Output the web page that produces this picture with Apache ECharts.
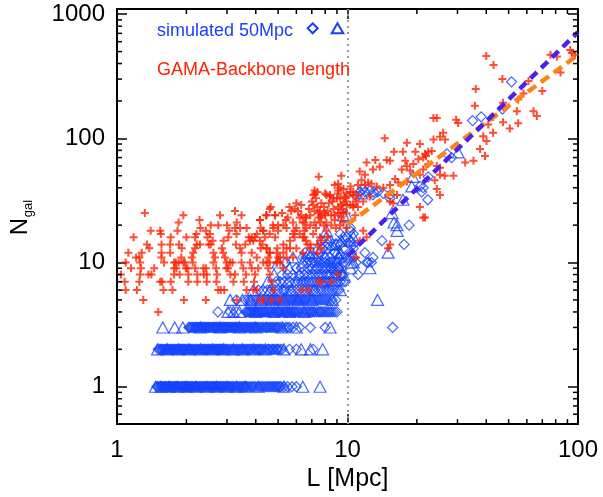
<!DOCTYPE html>
<html><head><meta charset="utf-8">
<script src="https://cdn.jsdelivr.net/npm/echarts@6/dist/echarts.min.js"></script>
<style>html,body{margin:0;padding:0;background:#fff}#c{width:603px;height:497px}</style>
</head><body><div id="c"></div>
<script>
const FONT = "'Liberation Sans', Arial, Helvetica, sans-serif";
const xTickLabels = ['1', '10', '100'];
const yTickLabels = ['1', '10', '100', '1000'];
const xMinorTicks = [2,3,4,5,6,7,8,9,20,30,40,50,60,70,80,90];
const yMinorTicks = [0.6,0.7,0.8,0.9,2,3,4,5,6,7,8,9,20,30,40,50,60,70,80,90,200,300,400,500,600,700,800,900];

// simulated 50Mpc: diamonds, rows of equal N_gal  [N, [L values]]
const simDiamondRows = [
  [1, [1.49,1.50,1.52,1.54,1.56,1.58,1.60,1.61,1.62,1.64,1.66,1.68,1.69,1.71,1.72,1.74,1.75,1.77,1.79,1.80,1.82,1.84,1.86,1.88,1.90,1.92,1.94,1.96,1.97,1.99,2.01,2.03,2.05,2.07,2.09,2.11,2.13,2.15,2.18,2.20,2.22,2.25,2.28,2.30,2.33,2.35,2.38,2.40,2.43,2.46,2.50,2.53,2.55,2.58,2.60,2.63,2.65,2.68,2.72,2.75,2.78,2.80,2.83,2.86,2.89,2.92,2.96,3.00,3.05,3.08,3.12,3.16,3.20,3.25,3.30,3.35,3.40,3.45,3.50,3.55,3.60,3.65,3.70,3.78,3.85,3.92,4.00,4.10,4.18,4.25,4.33,4.40,4.48,4.55,4.62,4.70,4.78,4.85,4.92,5.00,5.08,5.15,5.30,5.50,5.75,6.00]],
  [2, [1.51,1.53,1.55,1.56,1.58,1.60,1.62,1.64,1.66,1.68,1.70,1.72,1.74,1.76,1.78,1.80,1.82,1.84,1.86,1.88,1.90,1.92,1.94,1.96,1.98,2.00,2.03,2.06,2.08,2.10,2.12,2.15,2.18,2.20,2.22,2.25,2.28,2.32,2.35,2.38,2.40,2.42,2.45,2.48,2.50,2.52,2.55,2.58,2.62,2.65,2.68,2.70,2.72,2.75,2.78,2.80,2.83,2.85,2.88,2.92,2.95,2.98,3.00,3.05,3.10,3.15,3.20,3.25,3.30,3.35,3.40,3.45,3.50,3.55,3.60,3.65,3.70,3.75,3.80,3.85,3.95,4.00,4.05,4.10,4.15,4.20,4.25,4.30,4.40,4.50,4.55,4.60,4.70,4.75,4.80,4.90,4.95,5.00,5.10,5.20,5.60,6.00,7.10]],
  [3, [2.05,2.07,2.10,2.12,2.15,2.18,2.20,2.22,2.25,2.27,2.30,2.33,2.35,2.38,2.40,2.43,2.45,2.48,2.50,2.53,2.56,2.60,2.62,2.65,2.68,2.70,2.73,2.76,2.80,2.85,2.88,2.90,2.93,2.96,3.00,3.02,3.06,3.10,3.14,3.18,3.22,3.25,3.28,3.32,3.36,3.40,3.45,3.50,3.55,3.60,3.65,3.70,3.75,3.80,3.85,3.90,3.95,4.00,4.05,4.10,4.18,4.25,4.32,4.40,4.45,4.50,4.58,4.65,4.72,4.80,4.88,4.95,5.00,5.10,5.25,5.40,5.50,5.60,5.80,6.20,6.90,8.00]],
  [4, [2.74,3.10,3.30,3.62,3.65,3.70,3.74,3.78,3.82,3.85,3.90,3.95,4.00,4.05,4.10,4.15,4.20,4.25,4.30,4.35,4.40,4.45,4.52,4.60,4.65,4.70,4.80,4.90,4.95,5.00,5.05,5.10,5.18,5.25,5.32,5.40,5.45,5.50,5.60,5.70,5.78,5.85,5.92,6.00,6.10,6.20,6.35,6.45,6.60,6.70,6.80,6.90,7.00,7.10,7.20,7.35,7.50,7.60,7.70,7.85,8.00,8.15,8.30,8.45,8.60,8.80,9.00]],
  [5, [3.30,3.60,3.70,3.80,3.90,4.00,4.10,4.20,4.30,4.40,4.50,4.55,4.65,4.70,4.80,4.88,4.95,5.00,5.10,5.20,5.30,5.40,5.50,5.60,5.70,5.80,5.90,6.00,6.10,6.20,6.30,6.40,6.50,6.60,6.70,6.85,7.00,7.15,7.30,7.45,7.60,7.75,7.90,8.05,8.20,8.40,8.60,8.90]],
  [6, [4.10,4.30,4.50,4.70,4.85,5.00,5.20,5.30,5.40,5.60,5.80,6.00,6.20,6.40,6.60,6.80,7.00,7.20,7.50,7.70,7.90,8.10,8.30,8.55,8.80,9.00,9.20]],
  [7, [4.90,5.10,5.30,5.60,5.90,6.10,6.30,6.45,6.60,6.80,7.00,7.20,7.40,7.60,7.90,8.10,8.30,8.50,8.70,9.00,9.30]],
  [8, [5.20,5.50,5.80,6.20,6.50,6.80,7.00,7.25,7.50,7.75,8.10,8.30,8.50,8.80,9.00,9.30]],
  [9, [6.00,6.30,6.70,7.00,7.40,7.70,8.00,8.20,8.50,8.80,9.10,9.40]],
  [10, [5.40,6.70,7.00,7.20,7.50,7.80,8.00,8.30,8.60,9.00,9.60]],
  [11, [6.60,7.20,8.40,9.20,9.90]],
  [12, [7.60,8.80,10.4]],
  [13, [8.20,9.60]],
  [14, [9.00,10.2]],
  [15, [8.40,9.80]]
];
const simDiamondExtra = [[6.4,11],[7.4,11],[8.0,11],[8.5,9],[9.1,9],[9.4,8],[7.8,13],[8.8,12],[9.3,14],[10.6,14],[10.3,19],[10.6,17],[9.6,16],[10.3,18],[9.6,8],[9.8,7],[6.55,12],[6.9,11],[9.3,17],[9.9,16],[10.6,13],[10.3,11],[11.9,12],[12.9,11],[12.1,10],[7.7,15],[8.2,14],[11.1,8],[12.7,10],[12.3,10],[14.1,15],[17.6,14],[18.5,20],[22.3,32],[21,37],[20.6,41],[22.4,49],[21.3,40],[28.3,70],[27,75],[34.9,139],[38,149],[47,172],[51.5,285],[15.7,3],[14.3,36],[15.3,35],[11.9,37],[13,37],[11,34],[11.3,37],[11.7,39],[12.5,38],[12.9,35],[13.5,37],[15.3,33],[10.3,15],[9.6,11],[10.6,11],[10.9,10],[9.6,7]];

// simulated 50Mpc: triangles
const simTriangleRows = [
  [1, [1.47,1.55,1.68,1.83,2.00,2.20,2.45,2.70,3.00,3.30,3.60,4.10,5.30,6.40,7.60]],
  [2, [1.50,1.65,1.85,2.05,2.30,2.60,2.90,3.20,3.50,3.90,4.40,5.30,6.30,6.90,7.80]],
  [3, [1.58,1.78,1.93,2.30,2.80,3.40,4.00,5.20,6.00,8.40]],
  [4, [3.03,3.20,3.40,4.00,4.80,5.60,6.50]],
  [5, [3.10,3.50,3.80,4.20,4.70,5.30,6.10,7.00,8.60]],
  [6, [3.90,4.60,5.70,7.20]],
  [7, [4.50,5.50,7.80]],
  [8, [4.80,6.20,9.60]],
  [9, [5.60,7.30]],
  [10, [5.00,6.40,9.00]],
  [11, [8.00]],
  [12, [6.80,9.30]],
  [13, [7.40]],
  [14, [8.60]],
  [15, [9.40]]
];
const simTriangleExtra = [[13.5,5],[12.5,9],[15,12],[16.4,20],[16.4,18],[15.6,25],[17.4,32],[19.2,49],[19,41],[30.2,77],[15.9,21],[11.5,36],[9.6,24],[8.1,18],[8.1,16],[7.0,12],[5.8,11],[8.9,14],[9.0,12],[9.2,11],[10.6,10],[10.3,9],[10.6,16],[9.9,24],[9.3,6],[10.4,10],[10.3,15]];

// GAMA backbone length: crosses
const gamaShort = [[1.32,25],[1.09,10],[1.04,8],[1.09,6],[1.08,7],[1.21,11],[1.25,11],[1.28,12],[1.35,14],[1.38,13],[1.26,10],[1.27,9],[1.26,8],[1.25,7],[1.22,6],[1.37,8],[1.41,8],[1.30,5],[1.51,4],[1.54,18],[1.55,17],[1.56,14],[1.56,12],[1.56,11],[1.54,7],[1.57,7],[1.59,6],[1.71,16],[1.70,14],[1.71,7],[1.74,6],[1.77,10],[1.80,10],[1.85,10],[1.77,9],[1.81,9],[1.77,8],[1.87,8],[1.85,21],[1.83,18],[1.94,24],[1.86,14],[1.91,13],[1.94,10],[1.97,10],[1.99,9],[2.02,9],[2.04,8],[2.04,7],[1.95,5],[2.11,11],[2.14,12],[2.18,13],[2.22,14],[2.29,14],[2.21,17],[2.18,16],[2.28,22],[2.13,10],[2.18,9],[2.23,8],[2.23,7],[2.37,9],[2.43,9],[2.38,8],[2.45,8],[2.45,7],[2.43,5],[2.43,18],[2.47,16],[2.53,17],[2.50,14],[2.55,14],[2.62,12],[2.66,11],[2.62,10],[2.55,20],[2.80,24],[2.75,20],[2.69,9],[2.72,8],[2.70,7],[2.75,6],[2.85,13],[2.89,12],[2.94,11],[2.82,6],[2.92,6],[3.04,16],[3.07,18],[2.99,10],[3.09,10],[3.17,10],[2.98,9],[3.03,9],[3.10,8],[3.25,8],[3.20,7],[3.25,26],[3.31,21],[3.47,24],[3.25,19],[3.42,19],[3.28,14],[3.42,13],[3.47,12],[3.47,10],[3.53,9],[3.63,8],[3.55,7],[3.65,6],[3.65,19],[3.73,16],[3.78,15],[3.90,15],[3.97,16],[3.78,10],[3.84,9],[3.97,8],[3.93,7],[4.04,6],[4.15,5],[4.17,22],[4.20,19],[4.31,18],[4.38,16],[4.28,14],[4.46,13],[4.60,12],[4.53,11],[4.43,24],[4.64,28],[4.85,24],[4.46,10],[4.53,9],[4.60,8],[4.68,7],[4.76,6],[4.76,20],[4.85,16],[4.96,13],[5.00,11],[4.93,10],[4.2,13],[3.6,14],[3.3,17],[3.0,20],[2.9,15],[2.6,15],[2.3,19],[2.0,16],[1.9,11],[1.6,10],[1.45,9],[1.15,9],[1.12,12],[1.18,16],[1.4,18],[1.7,12]];
const gamaMid = [[7.5,49],[9.4,50],[7.2,38],[7.4,37],[9.1,38],[9.7,34],[9.9,31],[9.4,29],[9.1,28],[9.1,25],[8.8,24],[7.4,28],[7.6,26],[7.7,24],[8.0,25],[7.5,23],[7.2,21],[5.7,26],[5.9,27],[6.3,24],[6.6,23],[6.5,21],[6.9,24],[4.6,27],[4.85,24],[4.46,24],[4.17,22],[5.27,20],[5.0,20],[5.44,19],[4.76,19],[4.6,17],[4.31,18],[4.04,17],[3.84,16],[5.8,17],[6.2,17],[6.5,16],[7.1,17],[7.6,16],[8.2,16],[5.27,14],[5.63,13],[6.0,13],[6.4,12],[6.9,14],[7.4,12],[7.7,13],[4.17,15],[4.46,13],[4.6,12],[4.93,12],[5.1,11],[5.44,11],[5.8,11],[3.84,12],[4.04,11],[4.31,10],[4.6,10],[4.93,10],[5.27,9],[4.1,9],[8.0,36],[8.4,35],[8.8,42],[9.1,43],[9.3,40],[9.6,39],[7.2,36],[7.1,29],[7.2,26],[9.1,36],[9.3,33],[9.6,30],[7.5,25],[7.7,23],[8.0,24],[7.6,21],[8.7,27],[9.3,25],[9.4,23],[9.9,29],[6.2,23],[6.4,21],[6.6,23],[6.9,20],[6.5,18],[6.4,16],[6.6,15],[6.7,14],[7.7,30],[8.1,35],[8.7,33],[5.63,15],[5.44,13],[5.27,12],[5.1,10],[6.0,19],[5.9,16],[5.8,21],[7.1,35],[8.4,34],[8.1,21],[9.9,36],[6.9,13],[7.4,14],[7.7,15],[8.1,18],[8.5,20],[8.9,19],[9.3,20],[9.6,25],[3.31,5],[4.31,5],[4.68,5],[3.9,6],[5.1,5],[6.3,6],[6.75,6],[7.5,7],[7.7,7],[8.5,7],[9.1,8],[5.2,25],[5.5,23],[5.6,28],[6.1,26],[6.3,29],[6.8,27],[7.0,31],[7.3,33],[7.9,28],[8.3,30],[8.6,31],[9.0,33],[8.2,26],[8.5,24],[9.5,27],[9.8,33],[6.0,30],[5.4,22],[5.0,18],[5.9,18],[6.6,19],[7.3,19],[7.9,20],[8.8,22],[9.6,21],[9.9,19]];
const gamaLong = [[14.5,100],[18.1,92],[20.6,90],[15.9,78],[17.4,78],[19.7,78],[21.7,75],[22.4,78],[14.8,67],[15.3,66],[13.2,67],[12.1,64],[12.9,56],[13.8,59],[11.3,54],[11.9,51],[17.8,66],[18.1,60],[19.3,62],[20.3,68],[21.3,70],[21.9,72],[17.2,56],[18.7,55],[20.6,51],[21.3,56],[16.1,47],[16.6,44],[18.1,45],[12.3,44],[12.7,43],[13.4,41],[14.3,40],[15.3,42],[15,35],[15.3,31],[15.8,30],[16.4,35],[12.5,34],[11.7,31],[10.9,31],[10.6,28],[10.3,29],[10.3,41],[10.6,37],[11.1,42],[11.5,46],[11.9,42],[10.1,35],[10.6,34],[11.1,35],[10.3,37],[10.6,29],[10.8,24],[11.1,28],[24.4,146],[23.6,146],[29.6,141],[30.2,133],[35.7,183],[47.3,193],[55,205],[64.1,165],[66.3,151],[54.3,165],[47.3,135],[50.6,120],[55,132],[42.8,149],[40.8,129],[42.8,111],[38.8,104],[40.1,95],[39.5,72],[32.4,64],[35.2,66],[37.6,82],[26,111],[25.2,103],[26.5,98],[23.6,98],[23.2,79],[22.4,62],[24.4,60],[25.2,58],[28.8,50],[25.2,51],[26.4,50],[23.9,46],[24.4,39],[25.2,35],[21.7,23],[20.6,28],[21.3,23],[15.3,14],[15,13],[11.7,18],[12.1,16],[11.3,15],[10.9,11],[9.9,25],[76,470],[81,455],[92.5,515],[94,488],[84,339],[40,460],[43,390],[36,250],[47,300],[58,230],[61,290],[70,240],[97,470]];

// power-law fits (end points)
const fitSim = [[10, 11.3], [100, 715]];
const fitGama = [[10, 20.3], [100, 470]];
const refL = 10;

const BLUE = '#1442ff', RED = '#ff2200', ORANGE = '#ff8414', PURPLE = '#4a22f0';

function rowsToPoints(rows) {
  const out = [];
  rows.forEach(([n, xs]) => xs.forEach(x => out.push([x, n])));
  return out;
}
const simDiamonds = rowsToPoints(simDiamondRows).concat(simDiamondExtra);
const simTriangles = rowsToPoints(simTriangleRows).concat(simTriangleExtra);
const gama = gamaShort.concat(gamaMid, gamaLong);

function decadeLabel(labels) {
  return function (v) {
    const e = Math.log10(v);
    const r = Math.round(e);
    if (Math.abs(e - r) < 1e-6 && labels[r] !== undefined) return labels[r];
    return '';
  };
}

const axisLine = { show: true, onZero: false, lineStyle: { color: '#000', width: 2 } };
const majorTick = { show: true, inside: true, length: 10, lineStyle: { color: '#000', width: 1.5 } };

const chart = echarts.init(document.getElementById('c'), null, { renderer: 'canvas' });
chart.setOption({
  animation: false,
  backgroundColor: '#fff',
  grid: { left: 117, right: 25, top: 9, bottom: 70, containLabel: false },
  xAxis: [
    { type: 'log', logBase: 10, min: 1, max: 100, position: 'bottom',
      axisLine, axisTick: majorTick, splitLine: { show: false }, minorTick: { show: false },
      axisLabel: { fontSize: 24, color: '#000', fontFamily: FONT, margin: 14, showMinLabel: true, showMaxLabel: true, formatter: decadeLabel(xTickLabels) },
      name: 'L [Mpc]', nameLocation: 'middle', nameGap: 37,
      nameTextStyle: { fontSize: 25, color: '#000', fontFamily: FONT } },
    { type: 'log', logBase: 10, min: 1, max: 100, position: 'top',
      axisLine, axisTick: majorTick, splitLine: { show: false }, axisLabel: { show: false } }
  ],
  yAxis: [
    { type: 'log', logBase: 10, min: 0.5, max: 1100, position: 'left',
      axisLine, axisTick: majorTick, splitLine: { show: false },
      axisLabel: { fontSize: 24, color: '#000', fontFamily: FONT, margin: 12, showMinLabel: true, showMaxLabel: true, formatter: decadeLabel(yTickLabels) } },
    { type: 'log', logBase: 10, min: 0.5, max: 1100, position: 'right',
      axisLine, axisTick: majorTick, splitLine: { show: false }, axisLabel: { show: false } }
  ],
  graphic: [
    { type: 'group', x: 20, y: 226.5, rotation: Math.PI / 2, children: [
      { type: 'text', x: -8.7, y: 0, style: { text: 'N', fontSize: 24, fontFamily: FONT, fill: '#000', align: 'left', verticalAlign: 'middle' } },
      { type: 'text', x: 9.3, y: 8.5, style: { text: 'gal', fontSize: 13, fontFamily: FONT, fill: '#000', align: 'left', verticalAlign: 'middle' } }
    ]},
    { type: 'text', x: 157, y: 30.7, z: 100, style: { text: 'simulated 50Mpc', fontSize: 18, fontFamily: FONT, fill: '#1a3fff', align: 'left', verticalAlign: 'middle' } },
    { type: 'polygon', z: 100, shape: { points: [[312.7, 23.3], [317.7, 28.3], [312.7, 33.3], [307.7, 28.3]] }, style: { fill: 'none', stroke: '#1a3fff', lineWidth: 2 } },
    { type: 'polygon', z: 100, shape: { points: [[337.5, 23.3], [343.3, 33.3], [331.7, 33.3]] }, style: { fill: 'none', stroke: '#1a3fff', lineWidth: 2 } },
    { type: 'text', x: 157, y: 70.4, z: 100, style: { text: 'GAMA-Backbone length', fontSize: 18, fontFamily: FONT, fill: RED, align: 'left', verticalAlign: 'middle' } }
  ],
  series: [
    { name: 'sim-tri', type: 'scatter', data: simTriangles, symbol: 'triangle', symbolSize: [12, 11],
      itemStyle: { color: 'rgba(0,0,0,0)', borderColor: BLUE, borderWidth: 1.2 }, z: 2, silent: true,
      markLine: { silent: true, symbol: 'none', label: { show: false }, lineStyle: { color: '#999', type: [2, 4], width: 2 }, data: [{ xAxis: refL }] } },
    { name: 'sim-dia', type: 'scatter', data: simDiamonds, symbol: 'diamond', symbolSize: [10, 10],
      itemStyle: { color: 'rgba(0,0,0,0)', borderColor: BLUE, borderWidth: 1.2 }, z: 2, silent: true },
    { name: 'gama', type: 'scatter', data: gama, symbol: 'path://M3,0h2v3h3v2h-3v3h-2v-3h-3v-2h3z', symbolSize: 8,
      itemStyle: { color: RED }, z: 3, silent: true },
    { name: 'fitGama', type: 'line', data: fitGama, showSymbol: false, symbol: 'none', z: 4, silent: true,
      lineStyle: { color: ORANGE, width: 4.5, type: [10, 6] } },
    { name: 'fitSim', type: 'line', data: fitSim, showSymbol: false, symbol: 'none', z: 5, silent: true,
      lineStyle: { color: PURPLE, width: 4.5, type: [9, 6] } },
    { name: 'minorX', type: 'custom', data: xMinorTicks.map(v => [v, 1]), silent: true, z: 6,
      renderItem: function (params, api) {
        const cs = params.coordSys;
        const x = api.coord([api.value(0), 1])[0];
        const yb = cs.y + cs.height, yt = cs.y;
        return { type: 'group', children: [
          { type: 'line', shape: { x1: x, y1: yb, x2: x, y2: yb - 5 }, style: { stroke: '#000', lineWidth: 1.5 } },
          { type: 'line', shape: { x1: x, y1: yt, x2: x, y2: yt + 5 }, style: { stroke: '#000', lineWidth: 1.5 } }
        ]};
      } },
    { name: 'minorY', type: 'custom', data: yMinorTicks.map(v => [1, v]), silent: true, z: 6,
      renderItem: function (params, api) {
        const cs = params.coordSys;
        const y = api.coord([1, api.value(1)])[1];
        const xl = cs.x, xr = cs.x + cs.width;
        return { type: 'group', children: [
          { type: 'line', shape: { x1: xl, y1: y, x2: xl + 5, y2: y }, style: { stroke: '#000', lineWidth: 1.5 } },
          { type: 'line', shape: { x1: xr, y1: y, x2: xr - 5, y2: y }, style: { stroke: '#000', lineWidth: 1.5 } }
        ]};
      } }
  ]
});
</script>
</body></html>
